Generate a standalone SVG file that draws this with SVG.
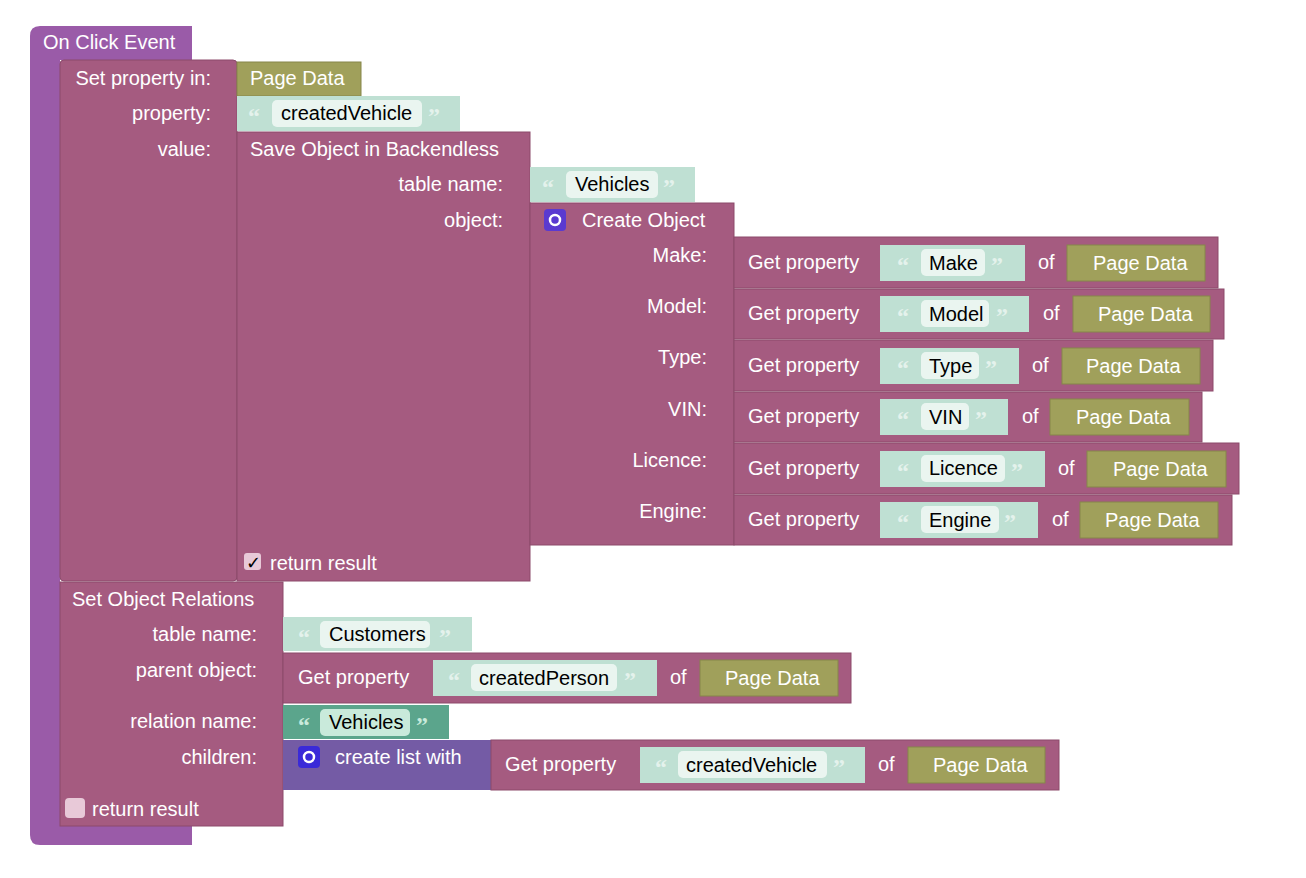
<svg xmlns="http://www.w3.org/2000/svg" width="1306" height="878" viewBox="0 0 1306 878">
<style>
text{font-family:"Liberation Sans",Arial,sans-serif;font-size:20px;fill:#fff}
.k{fill:#000}
.q{fill:#e4f2ec;font-size:24px;font-weight:bold;font-family:"Liberation Serif",serif}
.qg{fill:#c9eadb;font-size:24px;font-weight:bold;font-family:"Liberation Serif",serif}
.ev{fill:#9a5ba8}
.m{fill:#a55b80;stroke:#8c4a6b;stroke-width:1}
.o{fill:#a0a05b;stroke:#86864a;stroke-width:1}
.s{fill:#bfe0d3}
.f{fill:#eaf5f0}
.g{fill:#5ba58c}
.fg{fill:#c9eadb}
.l{fill:#745ba5}
.r{text-anchor:end}
</style>
<g id="event">
<path class="ev" d="M36 26 H192 V60 H60 V826 H192 V845 H40 Q30 845 30 835 V36 Q30 26 40 26 Z"/>
<text x="43" y="49">On Click Event</text>
</g>
<g id="setprop">
<rect class="m" x="60" y="60" width="177" height="521" rx="4"/>
<text class="r" x="211" y="85">Set property in:</text>
<text class="r" x="211" y="120">property:</text>
<text class="r" x="211" y="156">value:</text>
</g>
<g id="pd1"><rect class="o" x="237" y="62" width="124" height="34"/><text x="250" y="85">Page Data</text></g>
<g id="cv"><rect class="s" x="237" y="96" width="223" height="35"/><text class="q" x="248" y="124">“</text><rect class="f" x="272" y="100" width="150" height="27" rx="5"/><text class="k" x="281" y="120">createdVehicle</text><text class="q" x="428" y="124">”</text></g>
<g id="save">
<rect class="m" x="237" y="132" width="293" height="449"/>
<text x="250" y="156">Save Object in Backendless</text>
<text class="r" x="503" y="191">table name:</text>
<text class="r" x="503" y="227">object:</text>
<rect x="244" y="553" width="17" height="17" rx="3" fill="#e8c9d8"/>
<text class="k" x="246" y="569" style="font-size:18px">✓</text>
<text x="270" y="570">return result</text>
</g>
<g id="veh"><rect class="s" x="530" y="167" width="165" height="35"/><text class="q" x="542" y="195">“</text><rect class="f" x="566" y="171" width="92" height="27" rx="5"/><text class="k" x="575" y="191">Vehicles</text><text class="q" x="663" y="195">”</text></g>
<g id="create">
<rect class="m" x="530" y="203" width="204" height="342"/>
<rect x="544" y="209" width="22" height="22" rx="4" fill="#5a3ad0"/><circle cx="555" cy="220" r="5" fill="none" stroke="#fff" stroke-width="2.5"/>
<text x="582" y="227">Create Object</text>
<text class="r" x="707" y="262">Make:</text>
<text class="r" x="707" y="313">Model:</text>
<text class="r" x="707" y="364">Type:</text>
<text class="r" x="707" y="416">VIN:</text>
<text class="r" x="707" y="467">Licence:</text>
<text class="r" x="707" y="518">Engine:</text>
</g>
<g id="gp-make"><rect class="m" x="734" y="237" width="484" height="51"/><text x="748" y="269">Get property</text><rect class="s" x="880" y="245" width="145" height="36"/><text class="q" x="897" y="273">“</text><rect class="f" x="921" y="249" width="64" height="27" rx="5"/><text class="k" x="929" y="270">Make</text><text class="q" x="991" y="273">”</text><text x="1038" y="269">of</text><rect class="o" x="1067" y="245" width="138" height="36"/><text x="1093" y="270">Page Data</text></g>
<g id="gp-model"><rect class="m" x="734" y="289" width="490" height="50"/><text x="748" y="320">Get property</text><rect class="s" x="880" y="296" width="149" height="36"/><text class="q" x="897" y="324">“</text><rect class="f" x="921" y="300" width="68" height="27" rx="5"/><text class="k" x="929" y="321">Model</text><text class="q" x="996" y="324">”</text><text x="1043" y="320">of</text><rect class="o" x="1073" y="296" width="137" height="36"/><text x="1098" y="321">Page Data</text></g>
<g id="gp-type"><rect class="m" x="734" y="340" width="479" height="51"/><text x="748" y="372">Get property</text><rect class="s" x="880" y="348" width="139" height="36"/><text class="q" x="897" y="376">“</text><rect class="f" x="921" y="352" width="58" height="27" rx="5"/><text class="k" x="929" y="373">Type</text><text class="q" x="985" y="376">”</text><text x="1032" y="372">of</text><rect class="o" x="1062" y="348" width="138" height="36"/><text x="1086" y="373">Page Data</text></g>
<g id="gp-vin"><rect class="m" x="734" y="392" width="468" height="50"/><text x="748" y="423">Get property</text><rect class="s" x="880" y="399" width="128" height="36"/><text class="q" x="897" y="427">“</text><rect class="f" x="921" y="403" width="48" height="27" rx="5"/><text class="k" x="929" y="424">VIN</text><text class="q" x="975" y="427">”</text><text x="1022" y="423">of</text><rect class="o" x="1050" y="399" width="139" height="36"/><text x="1076" y="424">Page Data</text></g>
<g id="gp-licence"><rect class="m" x="734" y="443" width="505" height="51"/><text x="748" y="475">Get property</text><rect class="s" x="880" y="451" width="165" height="36"/><text class="q" x="897" y="479">“</text><rect class="f" x="921" y="455" width="84" height="27" rx="5"/><text class="k" x="929" y="475">Licence</text><text class="q" x="1011" y="479">”</text><text x="1058" y="475">of</text><rect class="o" x="1087" y="451" width="139" height="36"/><text x="1113" y="476">Page Data</text></g>
<g id="gp-engine"><rect class="m" x="734" y="495" width="498" height="50"/><text x="748" y="526">Get property</text><rect class="s" x="880" y="502" width="158" height="36"/><text class="q" x="897" y="530">“</text><rect class="f" x="921" y="506" width="78" height="27" rx="5"/><text class="k" x="929" y="527">Engine</text><text class="q" x="1004" y="530">”</text><text x="1052" y="526">of</text><rect class="o" x="1080" y="502" width="138" height="36"/><text x="1105" y="527">Page Data</text></g>
<g id="relations">
<rect class="m" x="60" y="582" width="223" height="244"/>
<text x="72" y="606">Set Object Relations</text>
<text class="r" x="257" y="641">table name:</text>
<text class="r" x="257" y="677">parent object:</text>
<text class="r" x="257" y="728">relation name:</text>
<text class="r" x="257" y="764">children:</text>
<rect x="65" y="798" width="20" height="20" rx="4" fill="#e8c9d8"/>
<text x="92" y="816">return result</text>
</g>
<g id="cust"><rect class="s" x="283" y="617" width="189" height="34"/><text class="q" x="298" y="645">“</text><rect class="f" x="320" y="621" width="110" height="27" rx="5"/><text class="k" x="329" y="641">Customers</text><text class="q" x="439" y="645">”</text></g>
<g id="gp-person"><rect class="m" x="283" y="653" width="568" height="50"/><text x="298" y="684">Get property</text><rect class="s" x="433" y="660" width="224" height="36"/><text class="q" x="448" y="688">“</text><rect class="f" x="471" y="664" width="146" height="27" rx="5"/><text class="k" x="479" y="685">createdPerson</text><text class="q" x="624" y="688">”</text><text x="670" y="684">of</text><rect class="o" x="700" y="660" width="138" height="36"/><text x="725" y="685">Page Data</text></g>
<g id="relname"><rect class="g" x="283" y="705" width="166" height="34"/><text class="qg" x="298" y="733">“</text><rect class="fg" x="320" y="709" width="90" height="27" rx="5"/><text class="k" x="329" y="729">Vehicles</text><text class="qg" x="416" y="733">”</text></g>
<g id="list"><rect class="l" x="283" y="740" width="208" height="50"/><rect x="298" y="746" width="22" height="22" rx="4" fill="#3a2ad8"/><circle cx="309" cy="757" r="5" fill="none" stroke="#fff" stroke-width="2.5"/><text x="335" y="764">create list with</text></g>
<g id="gp-vehicle"><rect class="m" x="491" y="740" width="568" height="50"/><text x="505" y="771">Get property</text><rect class="s" x="640" y="747" width="225" height="36"/><text class="q" x="655" y="775">“</text><rect class="f" x="678" y="751" width="149" height="27" rx="5"/><text class="k" x="686" y="772">createdVehicle</text><text class="q" x="833" y="775">”</text><text x="878" y="771">of</text><rect class="o" x="908" y="747" width="137" height="36"/><text x="933" y="772">Page Data</text></g>
<g id="connectors"></g>
</svg>
